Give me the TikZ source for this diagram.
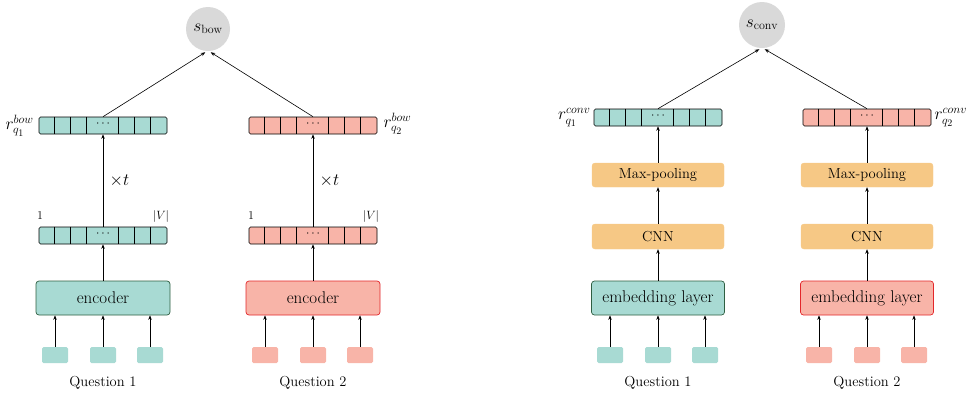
\documentclass[tikz,border=0pt]{standalone}
\usepackage{fontspec}
\usetikzlibrary{arrows.meta,calc}
\definecolor{tealf}{HTML}{A8DAD3}
\definecolor{tealdark}{HTML}{2F5F42}
\definecolor{salmon}{HTML}{F8B4A8}
\definecolor{redb}{HTML}{E3272B}
\definecolor{orng}{HTML}{F6C885}
\definecolor{grayc}{HTML}{D9D9D9}
\tikzset{
  arr/.style={-{Stealth[length=4.5pt,width=3.5pt]}, line width=0.6pt},
  vecbox/.style={draw, line width=0.6pt, rounded corners=1.5pt, minimum width=128pt, minimum height=17pt, inner sep=0pt},
  bigbox/.style={rounded corners=3pt, line width=0.7pt, minimum height=34pt, inner sep=0pt, font=\fontsize{17}{19}\selectfont},
  obox/.style={fill=orng, draw=orng, rounded corners=3pt, minimum width=132pt, minimum height=24pt, inner sep=0pt, font=\fontsize{14.5}{16}\selectfont},
  inbox/.style={rounded corners=1.5pt, minimum width=26pt, minimum height=16pt, inner sep=0pt},
  score/.style={circle, fill=grayc, minimum size=44pt, inner sep=0pt, font=\fontsize{17.28}{19}\selectfont},
  qlab/.style={font=\fontsize{14.5}{16}\selectfont},
  tlab/.style={font=\fontsize{17.28}{19}\selectfont},
  rlab/.style={font=\fontsize{17.28}{19}\selectfont, inner sep=0pt},
  small/.style={font=\fontsize{12}{14}\selectfont},
}
\newcommand\vecbar[4]{% name, x, y, color
  \node[vecbox, fill=#4] (#1) at (#2,#3) {};
  \foreach \o in {16,32,48,80,96,112}
    \draw[line width=0.6pt] ($(#1.north west)+(\o,0)$) -- ($(#1.south west)+(\o,0)$);
  \node[font=\fontsize{12}{12}\selectfont, inner sep=0pt] at ($(#1.center)+(0,-1.5)$) {$\cdots$};
}
\begin{document}
\begin{tikzpicture}[x=1pt,y=-1pt]
\useasboundingbox (0,0) rectangle (973,397);
% ---------------- left panel ----------------
\node[score] (sbow) at (208,29) {$s_{\mathrm{bow}}$};
\vecbar{va}{103}{125.5}{tealf}
\vecbar{vb}{313}{125.5}{salmon}
\vecbar{la}{103}{235.5}{tealf}
\vecbar{lb}{313}{235.5}{salmon}
\node[rlab, anchor=east] (ra) at ($(va.west)+(-5,0)$) {$r_{q_1}^{bow}$};
\node[rlab, anchor=west] (rb) at ($(vb.east)+(6,-2)$) {$r_{q_2}^{bow}$};
\node[small] (oa) at (40,216) {1};
\node[small] (Va) at (161,216) {$|V|$};
\node[small] (ob) at (251,216) {1};
\node[small] (Vb) at (371,216) {$|V|$};
\node[bigbox, fill=tealf, draw=tealdark, minimum width=134pt] (enca) at (103,298) {encoder};
\node[bigbox, fill=salmon, draw=redb, minimum width=134pt] (encb) at (313,298) {encoder};
\foreach \n/\x in {a1/55,a2/103,a3/150} \node[inbox, fill=tealf] (i\n) at (\x,355) {};
\foreach \n/\x in {b1/265,b2/313,b3/360} \node[inbox, fill=salmon] (i\n) at (\x,355) {};
\node[qlab] (qa) at (103,383) {Question 1};
\node[qlab] (qb) at (313,383) {Question 2};
\draw[arr, shorten >=2pt] (va.north) -- ($(sbow.south)+(-1,0)$);
\draw[arr, shorten >=2pt] (vb.north) -- ($(sbow.south)+(1,0)$);
\draw[arr] (la.north) -- node[right=3pt, tlab] {$\times t$} (va.south);
\draw[arr] (lb.north) -- node[right=3pt, tlab] {$\times t$} (vb.south);
\draw[arr] (enca.north) -- (la.south);
\draw[arr] (encb.north) -- (lb.south);
\foreach \n in {a1,a2,a3} \draw[arr] (i\n.north) -- (i\n.north |- enca.south);
\foreach \n in {b1,b2,b3} \draw[arr] (i\n.north) -- (i\n.north |- encb.south);
% ---------------- right panel ----------------
\node[score, minimum size=46pt] (sconv) at (762,25) {$s_{\mathrm{conv}}$};
\vecbar{ca}{658}{117.5}{tealf}
\vecbar{cb}{867}{117.5}{salmon}
\node[rlab, anchor=east] (rca) at ($(ca.west)+(-3,0)$) {$r_{q_1}^{conv}$};
\node[rlab, anchor=west] (rcb) at ($(cb.east)+(3,0)$) {$r_{q_2}^{conv}$};
\node[obox] (mpa) at (658,175) {Max-pooling};
\node[obox] (mpb) at (867,175) {Max-pooling};
\node[obox, minimum height=25pt] (cnna) at (658,236.5) {CNN};
\node[obox, minimum height=25pt] (cnnb) at (867,236.5) {CNN};
\node[bigbox, fill=tealf, draw=tealdark, minimum width=133pt] (emba) at (658,298) {embedding layer};
\node[bigbox, fill=salmon, draw=redb, minimum width=133pt] (embb) at (867,298) {embedding layer};
\foreach \n/\x in {c1/610,c2/658,c3/705} \node[inbox, fill=tealf] (i\n) at (\x,355) {};
\foreach \n/\x in {d1/819,d2/867,d3/914} \node[inbox, fill=salmon] (i\n) at (\x,355) {};
\node[qlab] (qc) at (658,383) {Question 1};
\node[qlab] (qd) at (867,383) {Question 2};
\draw[arr, shorten >=2pt] (ca.north) -- ($(sconv.south)+(-1,0)$);
\draw[arr, shorten >=2pt] (cb.north) -- ($(sconv.south)+(1,0)$);
\draw[arr] (mpa.north) -- (ca.south);
\draw[arr] (mpb.north) -- (cb.south);
\draw[arr] (cnna.north) -- (mpa.south);
\draw[arr] (cnnb.north) -- (mpb.south);
\draw[arr] (emba.north) -- (cnna.south);
\draw[arr] (embb.north) -- (cnnb.south);
\foreach \n in {c1,c2,c3} \draw[arr] (i\n.north) -- (i\n.north |- emba.south);
\foreach \n in {d1,d2,d3} \draw[arr] (i\n.north) -- (i\n.north |- embb.south);
\end{tikzpicture}
\end{document}
